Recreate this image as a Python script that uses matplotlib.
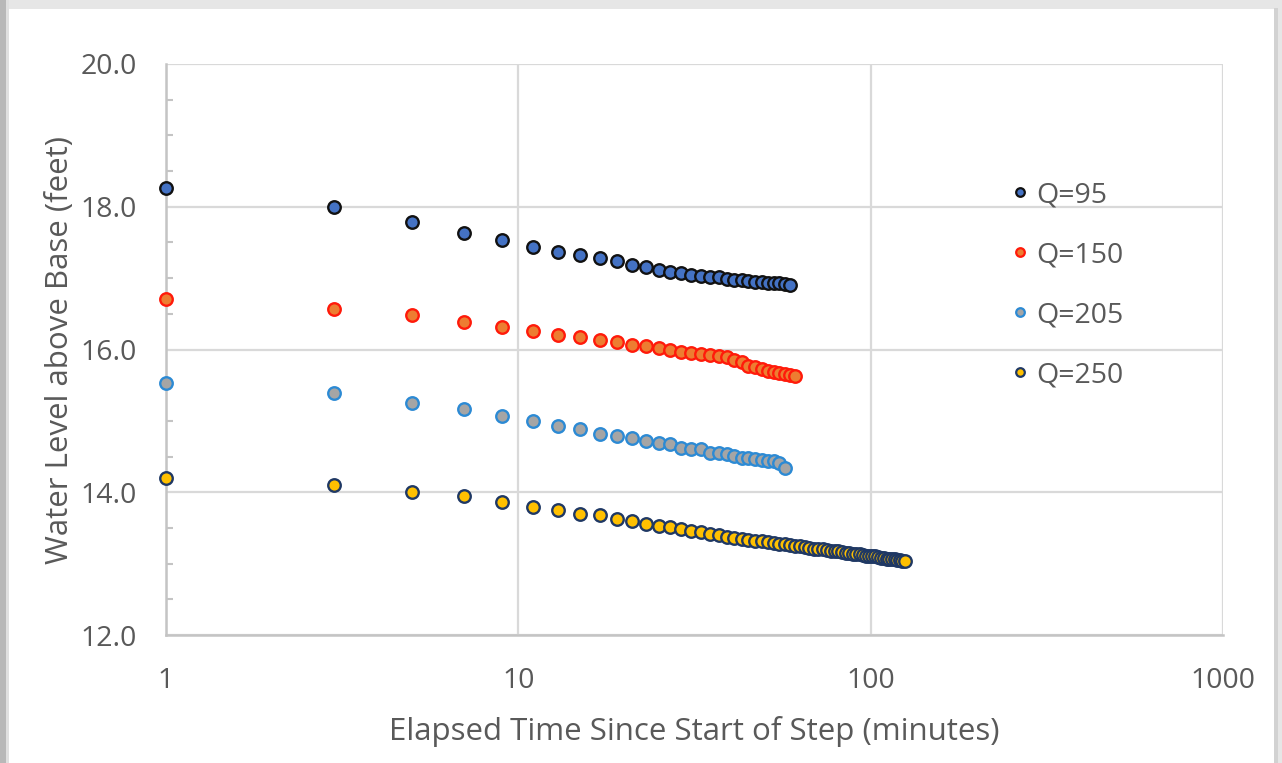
import matplotlib
matplotlib.use("Agg")
import matplotlib.pyplot as plt
from matplotlib.patches import Rectangle
from matplotlib.ticker import FixedLocator, MultipleLocator, FuncFormatter

plt.rcParams['font.family'] = ['Open Sans', 'DejaVu Sans']

# ---------------- data ----------------
t_95 = list(range(1, 60, 2))
q95 = [18.26, 18.00, 17.79, 17.63, 17.53, 17.44, 17.37, 17.33, 17.28, 17.24,
       17.18, 17.16, 17.12, 17.09, 17.07, 17.04, 17.03, 17.02, 17.01, 16.99,
       16.97, 16.97, 16.96, 16.95, 16.95, 16.93, 16.93, 16.93, 16.92, 16.90]

t_150 = list(range(1, 62, 2))
q150 = [16.71, 16.57, 16.48, 16.39, 16.31, 16.26, 16.21, 16.17, 16.14, 16.10,
        16.07, 16.05, 16.02, 15.99, 15.97, 15.95, 15.93, 15.92, 15.91, 15.89,
        15.85, 15.82, 15.77, 15.75, 15.72, 15.70, 15.68, 15.67, 15.65, 15.64,
        15.63]

t_205 = list(range(1, 58, 2))
q205 = [15.53, 15.39, 15.25, 15.17, 15.07, 15.00, 14.93, 14.88, 14.82, 14.79,
        14.76, 14.72, 14.69, 14.67, 14.62, 14.60, 14.60, 14.55, 14.55, 14.53,
        14.51, 14.48, 14.48, 14.46, 14.45, 14.44, 14.44, 14.41, 14.34]

t_250 = list(range(1, 126, 2))
q250 = [14.20, 14.10, 14.00, 13.95, 13.86, 13.80, 13.75, 13.70, 13.68, 13.63,
        13.60, 13.55, 13.53, 13.52, 13.48, 13.46, 13.44, 13.42, 13.40, 13.38,
        13.36, 13.35, 13.33, 13.32, 13.31, 13.30, 13.29, 13.28, 13.27, 13.26,
        13.25, 13.24, 13.23, 13.22, 13.21, 13.21, 13.20, 13.19, 13.18, 13.17,
        13.17, 13.16, 13.15, 13.15, 13.14, 13.13, 13.13, 13.12, 13.11, 13.11,
        13.10, 13.10, 13.09, 13.08, 13.08, 13.07, 13.07, 13.06, 13.06, 13.05,
        13.05, 13.04, 13.03]

series_labels = ["Q=95", "Q=150", "Q=205", "Q=250"]
x_ticks = [1, 10, 100, 1000]
y_ticks = [12.0, 14.0, 16.0, 18.0, 20.0]

styles = [
    dict(mfc="#4472C4", mec="#111111"),
    dict(mfc="#ED7D31", mec="#FF1A0A"),
    dict(mfc="#A5A5A5", mec="#2C8AD4"),
    dict(mfc="#FFC000", mec="#1F3864"),
]

W, H = 1282, 763
fig = plt.figure(figsize=(W / 100, H / 100), dpi=100, facecolor="white")

def fx(px):
    return px / W

def fy(py):
    return 1 - py / H

# screenshot-style frame
fig.patches.append(Rectangle((0, fy(9)), 1, 9 / H, transform=fig.transFigure,
                             facecolor="#e6e6e6", edgecolor="none", zorder=-5))
fig.patches.append(Rectangle((0, 0), fx(9), 1, transform=fig.transFigure,
                             facecolor="#e0e0e0", edgecolor="none", zorder=-4))
fig.patches.append(Rectangle((0, 0), fx(6), 1, transform=fig.transFigure,
                             facecolor="#b8b8b8", edgecolor="none", zorder=-3))
fig.patches.append(Rectangle((fx(1274), 0), fx(8), 1, transform=fig.transFigure,
                             facecolor="#e6e6e6", edgecolor="none", zorder=-4))
fig.patches.append(Rectangle((fx(1274), 0), fx(4), fy(8), transform=fig.transFigure,
                             facecolor="#d2d2d2", edgecolor="none", zorder=-3))

ax = fig.add_axes([fx(166), fy(635), fx(1223) - fx(166), fy(64) - fy(635)])
ax.set_facecolor("none")

for (tt, vv), lab, st in zip([(t_95, q95), (t_150, q150), (t_205, q205), (t_250, q250)],
                             series_labels, styles):
    ax.plot(tt, vv, linestyle="none", marker="o", markersize=9.0,
            markeredgewidth=1.7, label=lab, zorder=5, clip_on=False, **st)

ax.set_xscale("log")
ax.set_xlim(1, 1000)
ax.set_ylim(12, 20)
ax.xaxis.set_major_locator(FixedLocator(x_ticks))
ax.xaxis.set_minor_locator(FixedLocator([]))
ax.xaxis.set_major_formatter(FuncFormatter(lambda v, p: f"{v:g}"))
ax.yaxis.set_major_locator(FixedLocator(y_ticks))
ax.yaxis.set_minor_locator(MultipleLocator(0.5))
ax.yaxis.set_major_formatter(FuncFormatter(lambda v, p: f"{v:.1f}"))

grid_c = "#d9d9d9"
ax.grid(True, which="major", color=grid_c, linewidth=1.6, zorder=0)
ax.set_axisbelow(True)
for s in ["top", "right"]:
    ax.spines[s].set_visible(False)
for s in ["left", "bottom"]:
    ax.spines[s].set_color("#c4c4c4")
    ax.spines[s].set_linewidth(1.8)

txt_c = "#595959"
ax.tick_params(axis="x", which="both", length=0, pad=23, labelsize=20.5, labelcolor=txt_c)
ax.tick_params(axis="y", which="major", length=0, pad=21, labelsize=20.5, labelcolor=txt_c)
ax.tick_params(axis="y", which="minor", direction="in", length=5, width=1.5, color="#c4c4c4")

ax.set_xlabel("Elapsed Time Since Start of Step (minutes)", fontsize=22.5, color=txt_c, labelpad=15)
ax.set_ylabel("Water Level above Base (feet)", fontsize=22.5, color=txt_c, labelpad=4)

leg = ax.legend(loc="upper left", frameon=False,
                fontsize=20.5, labelcolor=txt_c, handletextpad=0.1, labelspacing=1.12,
                handlelength=1.0, borderaxespad=0)
leg.set_bbox_to_anchor((fx(994), fy(170)), transform=fig.transFigure)
for h in leg.legend_handles:
    h.set_markersize(6.2)
    h.set_markeredgewidth(1.6)

fig.savefig("out.png", dpi=100, facecolor="white")
